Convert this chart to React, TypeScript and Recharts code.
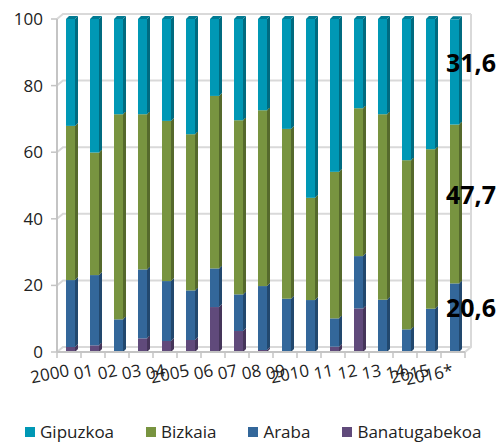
import { BarChart, Bar, XAxis, YAxis, CartesianGrid, Legend, LabelList } from "recharts";

const YEARS = ["2000", "01", "02", "03", "04", "2005", "06", "07", "08", "09", "2010", "11", "12", "13", "14", "2015", "2016*"];
const BANATUGABEKOA = [1.5, 2.0, 0, 4.1, 3.3, 3.6, 13.5, 6.3, 0.6, 0, 0, 1.6, 13.1, 0, 0, 0, 0];
const ARABA = [20.1, 21.1, 9.8, 20.7, 18.0, 14.9, 11.6, 11.0, 19.2, 16.0, 15.6, 8.5, 15.7, 15.7, 6.8, 13.0, 20.6];
const BIZKAIA = [46.3, 36.8, 61.6, 46.6, 48.1, 46.9, 51.8, 52.3, 52.8, 51.0, 30.7, 44.0, 44.4, 55.7, 50.8, 47.9, 47.7];
const GIPUZKOA = [32.1, 40.1, 28.6, 28.6, 30.6, 34.6, 23.1, 30.4, 27.4, 33.0, 53.7, 45.9, 26.8, 28.6, 42.4, 39.1, 31.6];
const Y_TICKS = [0, 20, 40, 60, 80, 100];

const DATA = YEARS.map((year, i) => ({
  year,
  ban: BANATUGABEKOA[i],
  araba: ARABA[i],
  bizkaia: BIZKAIA[i],
  gipuzkoa: GIPUZKOA[i],
}));

const FONT = "'Open Sans', sans-serif";
const GRID = "#d9d9d9";
const AXIS = "#c4c4c4";
const DX = 6;
const DY = 5;

// bottom to top
const SERIES = [
  { key: "ban", name: "Banatugabekoa", front: "#604a7b", side: "#45355a" },
  { key: "araba", name: "Araba", front: "#33679a", side: "#22486e" },
  { key: "bizkaia", name: "Bizkaia", front: "#789440", side: "#55692c" },
  { key: "gipuzkoa", name: "Gipuzkoa", front: "#0098b5", side: "#006b80", cap: "#007a92" },
];

function bar3d(front: string, side: string, cap?: string) {
  return (p: any) => {
    const { x, y, width, height } = p;
    if (!height || height <= 0) return <g />;
    const d = 3;
    const fx = x + d;
    const fw = width - d;
    return (
      <g>
        <rect x={fx} y={y} width={fw} height={height} fill={front} />
        <polygon
          points={`${fx + fw},${y} ${fx + fw + d},${y - d} ${fx + fw + d},${y + height - d} ${fx + fw},${y + height}`}
          fill={side}
        />
        {cap && (
          <polygon points={`${fx},${y} ${fx + d},${y - d} ${fx + fw + d},${y - d} ${fx + fw},${y}`} fill={cap} />
        )}
      </g>
    );
  };
}

const lastLabel = (p: any) => {
  if (p.index !== YEARS.length - 1) return null;
  const vb = p.viewBox || {};
  const x = p.x ?? vb.x;
  const y = p.y ?? vb.y;
  const h = p.height ?? vb.height;
  return (
    <text x={x - 1} y={y + h / 2 - 9} dy="0.35em" fontSize={25} fontWeight={700} fontFamily={FONT} fill="#000">
      {String(p.value).replace(".", ",")}
    </text>
  );
};

const XTick = (p: any) => {
  const { x, y, payload, index } = p;
  const half = 12;
  return (
    <g>
      <line x1={x - half} y1={y} x2={x - half} y2={y + 6} stroke={AXIS} strokeWidth={1.5} />
      {index === YEARS.length - 1 && (
        <line x1={x + half} y1={y} x2={x + half} y2={y + 6} stroke={AXIS} strokeWidth={1.5} />
      )}
      <text
        x={x + 1}
        y={y + 24}
        textAnchor="end"
        transform={`rotate(-11, ${x + 1}, ${y + 24})`}
        fontSize={17}
        fontFamily={FONT}
        fill="#222"
      >
        {payload.value}
      </text>
    </g>
  );
};

const LegendBox = () => (
  <div style={{ display: "flex", height: 16, alignItems: "center", paddingLeft: 25, fontFamily: FONT, fontSize: 17, color: "#222", lineHeight: "16px" }}>
    {[...SERIES].reverse().map((s) => (
      <div key={s.key} style={{ display: "flex", alignItems: "center", marginRight: 32 }}>
        <span style={{ width: 10, height: 10, background: s.front, marginRight: 5, display: "inline-block" }} />
        <span>{s.name}</span>
      </div>
    ))}
  </div>
);

export default function App() {
  return (
    <div style={{ position: "absolute", left: 0, top: 0 }}>
      <BarChart width={500} height={443} data={DATA} margin={{ top: 19, right: 35, left: 0, bottom: 3 }}>
        <CartesianGrid
          horizontal={(g: any) => (
            <path
              key={g.key}
              d={`M${g.x1},${g.y1} L${g.x1 + DX},${g.y1 - DY} L${g.x2 + DX},${g.y1 - DY}`}
              stroke={GRID}
              strokeWidth={2}
              fill="none"
            />
          )}
          vertical={(g: any) => (
            <path
              key={g.key}
              d={`M${g.x1},${g.y2} L${g.x1 + DX},${g.y2 - DY} L${g.x1 + DX},${g.y1 - DY}`}
              stroke={GRID}
              strokeWidth={2}
              fill="none"
            />
          )}
          verticalCoordinatesGenerator={(a: any) => [a.offset.left + a.offset.width]}
        />
        <XAxis
          dataKey="year"
          height={72}
          interval={0}
          tickSize={0}
          tickMargin={0}
          tickLine={false}
          axisLine={{ stroke: AXIS, strokeWidth: 2 }}
          tick={<XTick />}
        />
        <YAxis
          width={57}
          domain={[0, 100]}
          ticks={Y_TICKS}
          tickSize={6}
          tickMargin={8}
          axisLine={{ stroke: AXIS, strokeWidth: 2 }}
          tickLine={{ stroke: AXIS, strokeWidth: 1.5 }}
          tick={{ fill: "#222", fontSize: 17, fontFamily: FONT }}
        />
        <Legend verticalAlign="bottom" content={<LegendBox />} />
        {SERIES.map((s) => (
          <Bar
            key={s.key}
            dataKey={s.key}
            name={s.name}
            stackId="a"
            barSize={12}
            fill={s.front}
            shape={bar3d(s.front, s.side, s.cap)}
            isAnimationActive={false}
          >
            {s.key !== "ban" && <LabelList dataKey={s.key} content={lastLabel} />}
          </Bar>
        ))}
      </BarChart>
    </div>
  );
}
